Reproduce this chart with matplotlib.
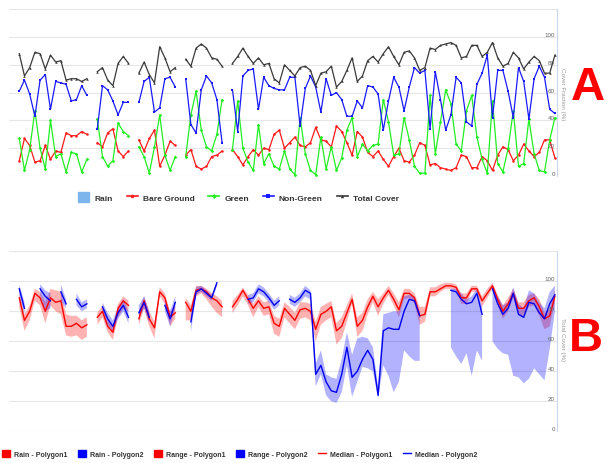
import numpy as np
import matplotlib.pyplot as plt
from matplotlib.lines import Line2D
from matplotlib.patches import Patch

nan = np.nan

# ---- panel A: cover fractions (%) per sample, nan = no image ----
bare_ground = [11, 27, 22, 10, 11, 22, 12, 18, 17, 31, 29, 29, 32, 30, nan,
               24, 21, 31, 34, 18, 14, 18, nan,
               26, 18, 27, 33, 7, 15, 25, 22, nan,
               15, 19, 7, 5, 7, 14, 15, 18, nan,
               19, 14, 8, 14, 19, 15, 20, 19, 30, 33, 20, 24, 28, 22, 21, 24, 35, 26, 25, 21,
               36, 32, 24, 15, 32, 28, 17, 14, 18, 12, 7, 14, 20, 11, 10, 15, 24, 22, 8, 9,
               6, 5, 4, 6, 15, 14, 6, 6, 14, 11, 4, 15, 21, 19, 11, 15, 23, 18, 14, 17,
               26, 26, 13]
green = [27, 4, 19, 47, 20, 5, 40, 14, 16, 3, 17, 16, 3, 12, nan,
         41, 14, 7, 11, 38, 32, 29, nan,
         21, 14, 2, 21, 44, 15, 4, 14, nan,
         14, 44, 61, 33, 21, 18, 30, 55, nan,
         19, 54, 20, 10, 4, 37, 9, 16, 7, 5, 18, 5, 1, 42, 16, 4, 1, 28, 5, 21,
         4, 13, 33, 42, 14, 23, 18, 22, 23, 55, 39, 15, 16, 42, 26, 7, 2, 2, 58, 16,
         39, 62, 52, 23, 18, 47, 58, 28, 12, 2, 54, 9, 3, 20, 47, 7, 9, 41, 16, 4,
         3, 26, 42]
non_green = [61, 69, 59, 43, 69, 73, 48, 68, 67, 66, 54, 55, 65, 58, nan,
             34, 65, 62, 54, 44, 53, 53, nan,
             53, 68, 71, 46, 49, 70, 71, 64, nan,
             70, 37, 31, 62, 72, 67, 55, 24, nan,
             62, 32, 72, 76, 77, 48, 71, 65, 63, 62, 62, 71, 71, 36, 63, 72, 64, 46, 70, 58,
             60, 55, 43, 43, 54, 49, 65, 64, 59, 33, 54, 71, 64, 47, 64, 78, 74, 76, 34, 75,
             55, 33, 44, 71, 67, 39, 36, 66, 74, 87, 42, 76, 76, 61, 42, 78, 68, 41, 70, 79,
             71, 48, 45]
total_cover = [88, 72, 78, 89, 88, 77, 87, 82, 83, 69, 70, 70, 68, 70, nan,
               75, 78, 69, 65, 81, 86, 81, nan,
               74, 82, 73, 67, 93, 85, 75, 78, nan,
               84, 79, 92, 95, 92, 85, 84, 79, nan,
               81, 86, 92, 86, 81, 85, 80, 81, 70, 67, 80, 76, 72, 78, 79, 76, 65, 74, 75, 79,
               64, 68, 76, 85, 68, 72, 83, 86, 82, 88, 93, 86, 80, 89, 90, 85, 76, 78, 92, 91,
               94, 95, 96, 94, 85, 86, 94, 94, 86, 89, 96, 85, 79, 81, 89, 85, 77, 82, 86, 83,
               74, 74, 87]

# ---- panel B: total cover (%) of two polygons, median and range ----
median_p1 = [89, 74, 80, 92, 89, 80, 89, 86, 87, 70, 70, 72, 69, 71, nan,
             76, 80, 70, 66, 82, 87, 84, nan,
             75, 87, 75, 69, 93, 89, 76, 79, nan,
             86, 80, 94, 95, 93, 89, 87, 83, nan,
             83, 88, 94, 88, 82, 87, 82, 83, 72, 70, 82, 78, 74, 81, 82, 80, 68, 78, 80, 83,
             67, 70, 79, 88, 70, 74, 83, 90, 83, 89, 94, 88, 81, 92, 92, 89, 77, 78, 93, 93,
             95, 97, 97, 96, 89, 89, 95, 95, 87, 92, 97, 88, 80, 85, 92, 82, 82, 87, 89, 83,
             75, 77, 90]
low_p1 = [83, 67, 74, 87, 84, 72, 84, 80, 78, 64, 63, 64, 61, 63, nan,
          71, 76, 66, 61, 76, 82, 80, nan,
          71, 82, 70, 62, 90, 85, 70, 75, nan,
          74, 74, 90, 92, 88, 83, 79, 76, nan,
          79, 84, 90, 84, 76, 83, 77, 78, 65, 63, 76, 72, 68, 75, 76, 74, 60, 71, 74, 76,
          58, 62, 73, 85, 63, 67, 78, 86, 77, 85, 91, 84, 76, 88, 89, 85, 71, 73, 90, 90,
          93, 95, 95, 94, 85, 85, 93, 93, 83, 89, 95, 84, 75, 80, 89, 77, 77, 83, 84, 77,
          68, 70, 86]
high_p1 = [92, 78, 84, 95, 93, 86, 95, 94, 93, 78, 77, 77, 74, 76, nan,
           79, 84, 74, 70, 85, 90, 87, nan,
           80, 90, 80, 73, 96, 92, 80, 84, nan,
           89, 84, 97, 97, 95, 92, 90, 87, nan,
           87, 91, 96, 91, 85, 90, 86, 87, 77, 75, 86, 83, 79, 86, 86, 85, 73, 83, 85, 87,
           72, 76, 84, 92, 76, 79, 88, 93, 88, 92, 97, 92, 86, 95, 95, 92, 83, 83, 96, 96,
           98, 99, 99, 98, 92, 92, 97, 97, 90, 95, 99, 91, 84, 89, 95, 86, 86, 91, 92, 88,
           79, 81, 94]
median_p2 = [95, 82, nan, nan, 95, 90, 87, nan, 93, 85, nan, 88, 83, 85, nan,
             nan, 83, 75, 70, 79, 84, 76, nan,
             79, 86, 76, nan, nan, 84, 75, 86, nan,
             nan, 73, 93, 95, 92, 89, 99, nan, nan,
             nan, nan, nan, 88, 89, 95, 93, 89, 84, 87, nan, 88, 86, 89, 94, 92, 38, 44, 33, 27,
             26, 38, 56, 36, 40, 48, 54, 48, 24, 67, 69, 68, 68, 80, 88, 87, 77, nan, nan, nan,
             nan, nan, 94, 93, 88, 85, 86, 92, 78, nan, 95, 85, 78, 82, 92, 78, 76, 86, 85, 79,
             75, 85, 91]
low_p2 = [91, 78, nan, nan, 91, 80, 82, nan, 87, 82, nan, 84, 80, 82, nan,
          nan, 79, 71, 66, 75, 80, 72, nan,
          75, 82, 72, nan, nan, 80, 70, 82, nan,
          nan, 66, 91, 93, 90, 87, 97, nan, nan,
          nan, nan, nan, 85, 86, 92, 90, 86, 81, 84, nan, 85, 83, 86, 90, 88, 30, 38, 24, 20,
          19, 26, 44, 23, 33, 43, 42, 40, 22, 44, 37, 26, 33, 54, 50, 47, 47, nan, nan, nan,
          nan, nan, 56, 50, 45, 52, 37, 54, 47, nan, 60, 55, 52, 51, 37, 36, 32, 35, 42, 38,
          34, 55, 80]
high_p2 = [98, 86, nan, nan, 98, 94, 92, nan, 98, 88, nan, 92, 86, 88, nan,
           nan, 86, 79, 74, 83, 88, 80, nan,
           84, 90, 80, nan, nan, 88, 80, 90, nan,
           nan, 77, 96, 97, 94, 91, 100, nan, nan,
           nan, nan, nan, 91, 92, 98, 96, 92, 87, 90, nan, 91, 89, 92, 97, 94, 45, 54, 38, 36,
           35, 48, 66, 51, 62, 63, 62, 56, 30, 78, 79, 80, 80, 90, 91, 90, 80, nan, nan, nan,
           nan, nan, 95, 95, 92, 88, 90, 95, 83, nan, 97, 90, 84, 86, 96, 85, 82, 94, 92, 86,
           82, 93, 97]

x = np.arange(len(total_cover))

grid_color = '#e6e6e6'
axis_color = '#ccd6eb'
label_color = '#666666'


def style_axis(ax, ylabel, label_y):
    ax.set_xlim(-1.98, 103.4)
    ax.set_ylim(0, 120)
    ax.set_yticks(range(0, 121, 20))
    ax.set_xticks([])
    ax.tick_params(length=0, labelleft=False, labelright=False)
    ax.grid(axis='y', color=grid_color, lw=0.8)
    ax.set_axisbelow(True)
    for side in ['left', 'top', 'bottom']:
        ax.spines[side].set_visible(False)
    ax.spines['right'].set_color(axis_color)
    ax.spines['right'].set_linewidth(0.8)
    trans = ax.get_yaxis_transform()
    for v in range(0, 101, 20):
        ax.text(0.996, v, str(v), transform=trans, ha='right', va='bottom',
                fontsize=4.5, color=label_color)
    fig.text(0.9275, label_y, ylabel, rotation=270, ha='center', va='center',
             fontsize=4.5, color='#999999')


fig = plt.figure(figsize=(6.07, 4.64), dpi=100)
plt.rcParams['font.family'] = ['Liberation Sans', 'DejaVu Sans']

# panel A
axA = fig.add_axes([0.0148, 0.6185, 0.9028, 0.3595])
style_axis(axA, 'Cover Fraction (%)', 0.797)
series = [
    (bare_ground, 'Bare Ground', '#ff1a1a', 'o'),
    (green, 'Green', '#22ee22', 'D'),
    (non_green, 'Non-Green', '#1a1aff', 's'),
    (total_cover, 'Total Cover', '#3a3a3a', '^'),
]
handles = [Patch(color='#7cb5ec', label='Rain')]
for vals, name, col, mk in series:
    axA.plot(x, vals, color=col, lw=0.9, marker=mk, ms=1.8, mew=0)
    handles.append(Line2D([], [], color=col, lw=1.2, marker=mk, ms=2.5, mew=0, label=name))
fig.legend(handles=handles, loc='center', bbox_to_anchor=(0.393, 0.573), ncol=5,
           frameon=False, prop={'size': 6, 'weight': 'bold'}, labelcolor='#333333',
           handlelength=1.3, handleheight=1.3, handletextpad=0.6, columnspacing=1.7)

# panel B
axB = fig.add_axes([0.0148, 0.0683, 0.9028, 0.3879])
style_axis(axB, 'Total Cover (%)', 0.267)
axB.fill_between(x, low_p1, high_p1, color='#ff0000', alpha=0.3, lw=0)
axB.fill_between(x, low_p2, high_p2, color='#0000ff', alpha=0.3, lw=0)
axB.plot(x, median_p1, color='#ff0000', lw=1.0)
axB.plot(x, median_p2, color='#0000ee', lw=1.0)
handlesB = [
    Patch(color='#ff0000', label='Rain - Polygon1'),
    Patch(color='#0000ff', label='Rain - Polygon2'),
    Patch(color='#ff0000', label='Range - Polygon1'),
    Patch(color='#0000ff', label='Range - Polygon2'),
    Line2D([], [], color='#ff0000', lw=1.0, label='Median - Polygon1'),
    Line2D([], [], color='#0000ff', lw=1.0, label='Median - Polygon2'),
]
fig.legend(handles=handlesB, loc='center', bbox_to_anchor=(0.395, 0.0194), ncol=6,
           frameon=False, prop={'size': 5, 'weight': 'bold'}, labelcolor='#333333',
           handlelength=1.15, handleheight=1.15, handletextpad=0.6, columnspacing=1.5)

# panel letters
fig.text(0.9687, 0.81, 'A', color='#ff0000', fontsize=34, fontweight='bold',
         ha='center', va='center')
fig.text(0.9654, 0.27, 'B', color='#ff0000', fontsize=34, fontweight='bold',
         ha='center', va='center')

fig.savefig('out.png', dpi=100)
